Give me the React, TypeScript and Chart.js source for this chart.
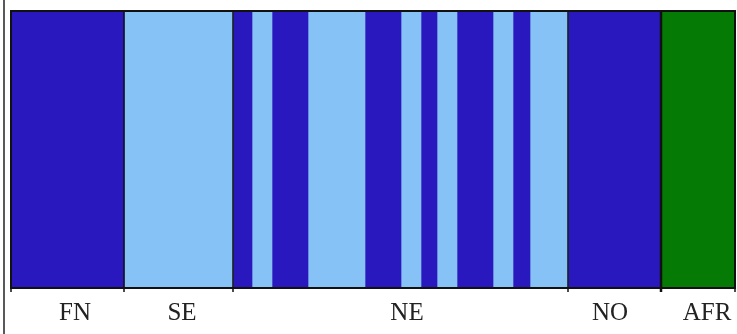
import React, { useEffect, useRef } from "react";
import { Chart, registerables } from "chart.js";

Chart.register(...registerables);

// Individuals ordered along the x axis; each segment = run of individuals with same cluster (widths in individual units)
const segmentWidths = [113, 109, 19, 20, 36, 57, 36, 20, 16, 20, 36, 20, 17, 38, 93, 74];
const segmentClusters = [0, 1, 0, 1, 0, 1, 0, 1, 0, 1, 0, 1, 0, 1, 0, 2];
const clusterColors = ["#2a18bf", "#86c2f5", "#057a05"];

// Population groups
const groupNames = ["FN", "SE", "NE", "NO", "AFR"];
const groupSizes = [113, 109, 335, 93, 74];
// Position of each group's label along the x axis (individual units)
const labelPositions = [64, 171, 396, 599, 696];

export default function App() {
  const ref = useRef<HTMLCanvasElement | null>(null);

  useEffect(() => {
    const canvas = ref.current;
    if (!canvas) return;
    const total = segmentWidths.reduce((a, b) => a + b, 0);
    let start = 0;
    const datasets = segmentWidths.map((w, i) => {
      const d = {
        data: [[start, start + w]] as any,
        backgroundColor: clusterColors[segmentClusters[i]],
        borderWidth: 0,
        barPercentage: 1,
        categoryPercentage: 1,
        grouped: false,
      };
      start += w;
      return d;
    });
    const boundaries: number[] = [0];
    groupSizes.reduce((acc, s) => {
      boundaries.push(acc + s);
      return acc + s;
    }, 0);

    const framePlugin = {
      id: "frame",
      afterDatasetsDraw(chart: any) {
        const { ctx, chartArea } = chart;
        const xs = chart.scales.x;
        ctx.save();
        ctx.strokeStyle = "#111";
        // group separators + ticks
        boundaries.forEach((b, i) => {
          const px = Math.round(xs.getPixelForValue(b));
          ctx.lineWidth = i === 4 ? 2.5 : 1.5;
          ctx.beginPath();
          ctx.moveTo(px, chartArea.top);
          ctx.lineTo(px, chartArea.bottom + 4);
          ctx.stroke();
        });
        // plot border
        ctx.lineWidth = 2;
        ctx.strokeRect(chartArea.left, chartArea.top, chartArea.right - chartArea.left, chartArea.bottom - chartArea.top);
        // outer frame line on the left
        ctx.lineWidth = 1.5;
        ctx.strokeStyle = "#222";
        ctx.beginPath();
        ctx.moveTo(4, 0);
        ctx.lineTo(4, chart.height);
        ctx.stroke();
        ctx.restore();
      },
    };

    const chart = new Chart(canvas, {
      type: "bar",
      data: { labels: ["all"], datasets },
      options: {
        indexAxis: "y",
        animation: false,
        responsive: false,
        maintainAspectRatio: false,
        layout: { padding: { top: 11, left: 11, right: 2, bottom: 0 } },
        plugins: { legend: { display: false }, tooltip: { enabled: false } },
        scales: {
          x: {
            type: "linear",
            min: 0,
            max: total,
            position: "bottom",
            border: { display: false },
            grid: { display: false },
            afterFit: (scale: any) => {
              scale.height = 46;
              scale.paddingLeft = 0;
              scale.paddingRight = 0;
            },
            afterBuildTicks: (scale: any) => {
              scale.ticks = labelPositions.map((v) => ({ value: v }));
            },
            ticks: {
              autoSkip: false,
              maxRotation: 0,
              padding: 2,
              color: "#222",
              font: { family: "'Liberation Serif', 'Times New Roman', serif", size: 25 },
              callback: (value: any) => {
                const idx = labelPositions.indexOf(Number(value));
                return idx >= 0 ? groupNames[idx] : "";
              },
            },
          },
          y: {
            type: "category",
            display: false,
          },
        },
      },
      plugins: [framePlugin],
    });
    return () => chart.destroy();
  }, []);

  return (
    <div style={{ position: "fixed", left: 0, top: 0, width: 737, height: 334, background: "#fff" }}>
      <canvas ref={ref} width={737} height={334} style={{ display: "block", width: 737, height: 334 }} />
    </div>
  );
}
